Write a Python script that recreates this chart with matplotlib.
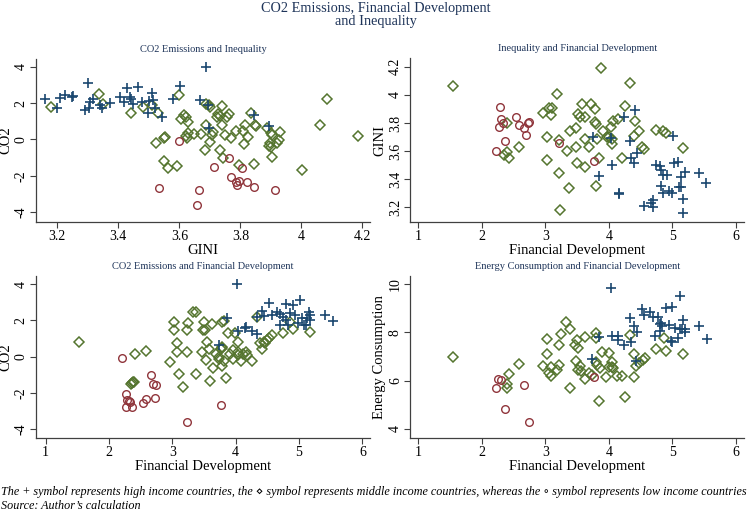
import matplotlib
matplotlib.use("Agg")
import matplotlib.pyplot as plt

W, H = 752, 511

# ---------------- Data ----------------
# Panel 1: CO2 vs GINI
p1_high_gini = [3.16, 3.198, 3.209, 3.225, 3.247, 3.252, 3.302, 3.29, 3.305, 3.306, 3.317, 3.34, 3.345, 3.372,
                3.405, 3.427, 3.42, 3.437, 3.44, 3.449, 3.466, 3.477, 3.499, 3.51, 3.515, 3.498, 3.52, 3.542,
                3.578, 3.602, 3.687, 3.668, 3.695, 3.698, 3.845, 3.895]
p1_high_co2 = [2.2, 1.71, 2.26, 2.44, 2.35, 2.39, 3.08, 1.62, 1.71, 2.08, 2.2, 1.89, 1.71, 1.99,
               2.32, 2.81, 2.08, 2.35, 2.2, 1.95, 2.86, 2.08, 2.13, 2.53, 2.17, 1.44, 1.71, 1.22,
               2.2, 2.96, 3.96, 2.17, 1.89, 0.61, 1.34, 0.74]
p1_mid_gini = [3.178, 3.337, 3.351, 3.44, 3.48, 3.509, 3.531, 3.523, 3.55, 3.553, 3.55, 3.562, 3.593, 3.599,
               3.607, 3.615, 3.622, 3.629, 3.622, 3.629, 3.626, 3.648, 3.671, 3.684, 3.687, 3.687, 3.698,
               3.702, 3.702, 3.707, 3.711, 3.739, 3.728, 3.723, 3.734, 3.756, 3.762, 3.739, 3.734, 3.742,
               3.75, 3.769, 3.786, 3.797, 3.808, 3.816, 3.812, 3.826, 3.834, 3.845, 3.848, 3.851, 3.897,
               3.899, 3.895, 3.886, 3.899, 3.905, 3.905, 3.92, 3.927, 3.931, 4.001, 4.061, 4.083, 4.187]
p1_mid_co2 = [1.8, 2.48, 1.95, 1.47, 1.8, 1.89, 1.44, -0.18, 0.1, 0.15, -1.16, -1.55, -1.46, 2.44,
              1.12, 1.34, 1.22, 0.98, 0.19, 0.34, 0.1, 0.28, 0.28, -0.58, 0.79, 1.93, 1.89,
              1.8, -0.12, 0.25, 0.43, 1.86, 1.4, 1.22, 1.29, 1.22, 1.4, 0.79, -0.58, -1.0,
              0.25, 0.06, 0.48, -1.4, 0.48, 0.79, -0.25, 0.15, 1.44, -1.35, 0.79, 0.74, -0.18,
              -0.43, -0.36, 0.65, 0.34, 0.25, -0.98, -0.18, -0.03, 0.43, -1.68, 0.79, 2.2, 0.19]
p1_low_gini = [3.6, 3.533, 3.665, 3.657, 3.712, 3.764, 3.769, 3.804, 3.786, 3.79, 3.797, 3.823, 3.845, 3.914]
p1_low_co2 = [-0.07, -2.65, -2.78, -3.6, -1.53, -1.04, -2.04, -1.59, -2.32, -2.5, -2.26, -2.32, -2.59, -2.78]

# Panel 2: GINI vs Financial Development
p2_high_fd = [3.744, 3.838, 4.03, 4.05, 4.153, 4.16, 4.24, 4.33, 4.345, 4.4, 4.436, 4.415, 4.557, 4.662, 4.688,
              4.7, 4.74, 4.8, 4.82, 4.82, 4.85, 4.85, 4.91, 4.94, 4.99, 5.01, 5.03, 5.08, 5.11, 5.13, 5.13,
              5.19, 5.17, 5.17, 5.42, 5.53]
p2_high_gini = [3.698, 3.423, 3.69, 3.5, 3.304, 3.295, 3.845, 3.672, 3.548, 3.513, 3.584, 3.892, 3.212, 3.228, 3.252,
                3.205, 3.501, 3.494, 3.465, 3.352, 3.43, 3.304, 3.43, 3.318, 3.304, 3.707, 3.513, 3.525, 3.347, 3.347, 3.413,
                3.454, 3.257, 3.162, 3.446, 3.375]
p2_mid_fd = [1.54, 2.39, 2.353, 2.39, 2.43, 2.58, 2.957, 3.02, 3.02, 3.062, 3.099, 3.088, 3.177, 3.22, 3.21, 3.235,
             3.335, 3.377, 3.387, 3.48, 3.48, 3.5, 3.52, 3.545, 3.57, 3.628, 3.628, 3.623, 3.69, 3.716, 3.785,
             3.785, 3.796, 3.806, 3.796, 3.838, 3.875, 3.9, 3.963, 4.0, 4.03, 4.05, 4.05, 4.06, 4.14, 4.21,
             4.26, 4.33, 4.4, 4.415, 4.467, 4.52, 4.557, 4.74, 4.856, 4.898, 5.17]
p2_mid_gini = [4.063, 3.797, 3.572, 3.596, 3.548, 3.631, 3.868, 3.702, 3.536, 3.904, 3.904, 3.856, 4.006, 3.679, 3.442, 3.181,
               3.603, 3.335, 3.745, 3.762, 3.627, 3.513, 3.864, 3.84, 3.935, 3.845, 3.686, 3.484, 3.627, 3.935, 3.897,
               3.809, 3.792, 3.683, 3.352, 3.548, 4.188, 3.745, 3.702, 3.698, 3.769, 3.683, 3.65, 3.816, 3.826, 3.548,
               3.92, 4.081, 3.707, 3.816, 3.745, 3.631, 3.612, 3.75, 3.745, 3.726, 3.619]
p2_low_fd = [2.285, 2.30, 2.275, 2.327, 2.222, 2.364, 2.537, 2.59, 2.668, 2.695, 2.72, 2.747, 3.22, 3.77]
p2_low_gini = [3.916, 3.826, 3.769, 3.797, 3.603, 3.669, 3.845, 3.785, 3.764, 3.714, 3.797, 3.809, 3.66, 3.532]

# Panel 3: CO2 vs Financial Development
p3_high_fd = [4.02, 3.74, 3.86, 4.04, 4.16, 4.15, 4.25, 4.34, 4.34, 4.41, 4.44, 4.53, 4.57, 4.65, 4.7, 4.7, 4.75,
              4.79, 4.8, 4.82, 4.85, 4.91, 4.93, 4.99, 5.01, 5.04, 5.08, 5.11, 5.12, 5.16, 5.17, 5.18, 5.41, 5.54]
p3_high_co2 = [3.98, 0.64, 2.15, 1.41, 1.65, 1.6, 1.41, 1.23, 2.2, 2.51, 2.26, 2.94, 2.29, 2.44, 1.74, 2.33, 2.2,
               2.88, 2.02, 1.74, 2.39, 2.84, 2.29, 1.83, 3.12, 2.15, 1.74, 1.74, 2.15, 2.44, 2.29, 2.02, 2.29, 1.96]
p3_mid_fd = [1.53, 2.34, 2.37, 2.38, 2.4, 2.41, 2.58, 2.96, 3.02, 3.02, 3.07, 3.07, 3.11, 3.17, 3.23, 3.24, 3.23,
             3.33, 3.37, 3.38, 3.46, 3.5, 3.48, 3.52, 3.53, 3.55, 3.58, 3.6, 3.62, 3.64, 3.69, 3.73, 3.74, 3.76,
             3.78, 3.79, 3.79, 3.78, 3.81, 3.82, 3.84, 3.88, 3.91, 3.95, 3.95, 3.99, 4.03, 4.04, 4.04, 4.08,
             4.11, 4.16, 4.18, 4.26, 4.33, 4.39, 4.41, 4.44, 4.46, 4.49, 4.53, 4.57, 4.74, 4.85, 4.9, 5.17]
p3_mid_co2 = [0.79, -1.52, -1.43, -1.38, -1.41, 0.15, 0.33, -0.28, 1.93, 1.47, 0.73, 0.28, -0.95, -1.69, 0.28, 1.83, 1.47,
              2.44, 2.44, -0.95, 0.24, 1.89, 1.47, 1.47, -0.18, 0.79, 0.42, -1.34, 1.8, -0.61, 0.13, 0.0, -0.13, 0.42,
              1.93, 0.55, 0.46, -0.5, 1.96, -0.24, -1.19, 1.28, 0.13, -0.13, 0.37, 1.28, 0.09, 0.79, 0.28, -0.24,
              0.13, 0.24, 0.09, -0.24, 2.2, 0.73, 0.42, 0.79, 0.73, 0.92, 1.05, 1.19, 1.28, 1.93, 1.52, 1.34]
p3_low_fd = [2.21, 2.26, 2.28, 2.27, 2.31, 2.33, 2.36, 2.53, 2.58, 2.66, 2.69, 2.74, 2.73, 3.23, 3.76]
p3_low_co2 = [-0.06, -2.07, -2.39, -2.79, -2.44, -2.51, -2.79, -2.57, -2.33, -1.01, -1.52, -1.56, -2.26, -3.61, -2.66]

# Panel 4: Energy Consumption vs Financial Development
p4_high_fd = [3.74, 3.84, 4.03, 4.05, 4.15, 4.15, 4.24, 4.33, 4.35, 4.4, 4.44, 4.42, 4.52, 4.56, 4.65, 4.69, 4.73,
              4.78, 4.8, 4.82, 4.84, 4.8, 4.9, 4.94, 4.98, 5.0, 5.0, 5.04, 5.08, 5.12, 5.12, 5.15, 5.17, 5.19,
              5.2, 5.41, 5.54]
p4_high_en = [6.9, 7.82, 9.85, 7.86, 7.86, 7.68, 7.48, 8.58, 7.59, 8.28, 8.0, 6.82, 8.96, 8.72, 8.83, 8.65, 7.86,
              8.65, 8.33, 8.37, 8.28, 8.06, 9.02, 8.3, 7.64, 7.59, 9.06, 8.17, 7.78, 8.14, 9.48, 8.14, 8.51, 8.14,
              8.0, 8.28, 7.72]
p4_mid_fd = [1.54, 2.39, 2.39, 2.43, 2.58, 2.96, 3.02, 3.02, 3.06, 3.09, 3.09, 3.18, 3.22, 3.24, 3.22, 3.33, 3.38,
             3.39, 3.47, 3.5, 3.52, 3.48, 3.52, 3.54, 3.56, 3.63, 3.63, 3.69, 3.74, 3.79, 3.79, 3.79, 3.82, 3.84,
             3.86, 3.89, 3.95, 4.0, 4.0, 4.05, 4.05, 4.07, 4.12, 4.21, 4.26, 4.33, 4.4, 4.4, 4.43, 4.48, 4.53,
             4.57, 4.74, 4.86, 4.9, 5.17]
p4_mid_en = [6.99, 5.85, 5.69, 6.28, 6.68, 6.61, 7.72, 7.1, 6.3, 6.21, 6.58, 6.44, 7.48, 7.92, 6.65, 8.44, 8.14,
             5.71, 7.48, 7.68, 7.34, 6.82, 6.44, 6.62, 6.4, 7.82, 6.07, 6.3, 6.24, 7.96, 7.75, 6.76, 6.65, 5.17,
             6.51, 7.17, 6.13, 7.13, 6.58, 6.58, 6.76, 6.51, 6.21, 6.21, 5.34, 7.89, 7.09, 6.13, 6.62, 6.72, 6.86,
             6.95, 7.31, 7.78, 7.23, 7.09]
p4_low_fd = [2.22, 2.26, 2.3, 2.36, 2.67, 2.75, 3.77]
p4_low_en = [5.71, 6.07, 6.03, 4.83, 5.8, 4.28, 6.17]

# ---------------- Style ----------------
SERIF = ["Liberation Serif", "DejaVu Serif"]
plt.rcParams["font.family"] = SERIF
NAVY = "#1a476f"
MAROON = "#90353b"
GREEN = "#55752f"
TITLE_C = "#1e3459"
AXC = "#404040"

fig = plt.figure(figsize=(W / 100, H / 100), dpi=100)


def px_box(l, r, t, b):
    return [l / W, 1 - b / H, (r - l) / W, (b - t) / H]


def style(ax, xlim, ylim, xticks, yticks, xlabels, ylabels, xlab, ylab, title):
    ax.set_xlim(*xlim)
    ax.set_ylim(*ylim)
    ax.set_xticks(xticks)
    ax.set_xticklabels(xlabels)
    ax.set_yticks(yticks)
    ax.set_yticklabels(ylabels, rotation=90, va="center")
    for s in ["top", "right"]:
        ax.spines[s].set_visible(False)
    for s in ["left", "bottom"]:
        ax.spines[s].set_color(AXC)
        ax.spines[s].set_linewidth(0.9)
    ax.tick_params(axis="both", direction="out", length=4, width=0.8, color=AXC,
                   labelsize=10, labelcolor="black", pad=2)
    ax.set_xlabel(xlab, fontsize=10.5, labelpad=1)
    ax.set_ylabel(ylab, fontsize=10.5, labelpad=2)
    ax.set_title(title, fontsize=7.5, color=TITLE_C, pad=5)


def plot_groups(ax, hx, hy, mx, my, lx, ly):
    ax.plot(mx, my, linestyle="none", marker="D", markersize=5.2, markerfacecolor="none",
            markeredgecolor=GREEN, markeredgewidth=1.1)
    ax.plot(hx, hy, linestyle="none", marker="+", markersize=6.5,
            markeredgecolor=NAVY, markeredgewidth=1.2)
    ax.plot(lx, ly, linestyle="none", marker="o", markersize=5.5, markerfacecolor="none",
            markeredgecolor=MAROON, markeredgewidth=1.0)


fd_ticks = [1, 2, 3, 4, 5, 6]
fd_labels = ["1", "2", "3", "4", "5", "6"]

ax1 = fig.add_axes(px_box(36, 370, 59, 221.7))
plot_groups(ax1, p1_high_gini, p1_high_co2, p1_mid_gini, p1_mid_co2, p1_low_gini, p1_low_co2)
style(ax1, (3.130, 4.225), (-4.52, 4.42), [3.2, 3.4, 3.6, 3.8, 4.0, 4.2], [-4, -2, 0, 2, 4],
      ["3.2", "3.4", "3.6", "3.8", "4", "4.2"], ["-4", "-2", "0", "2", "4"], "GINI", "CO2",
      "CO2 Emissions and Inequality")

ax2 = fig.add_axes(px_box(410.3, 744, 58.3, 221.7))
plot_groups(ax2, p2_high_fd, p2_high_gini, p2_mid_fd, p2_mid_gini, p2_low_fd, p2_low_gini)
style(ax2, (0.874, 6.126), (3.098, 4.26), fd_ticks, [3.2, 3.4, 3.6, 3.8, 4.0, 4.2],
      fd_labels, ["3.2", "3.4", "3.6", "3.8", "4", "4.2"], "Financial Development", "GINI",
      "Inequality and Financial Development")

ax3 = fig.add_axes(px_box(36, 370, 275.7, 437.7))
plot_groups(ax3, p3_high_fd, p3_high_co2, p3_mid_fd, p3_mid_co2, p3_low_fd, p3_low_co2)
style(ax3, (0.847, 6.12), (-4.46, 4.46), fd_ticks, [-4, -2, 0, 2, 4],
      fd_labels, ["-4", "-2", "0", "2", "4"], "Financial Development", "CO2",
      "CO2 Emissions and Financial Development")

ax4 = fig.add_axes(px_box(410.3, 744, 275.7, 437.7))
plot_groups(ax4, p4_high_fd, p4_high_en, p4_mid_fd, p4_mid_en, p4_low_fd, p4_low_en)
style(ax4, (0.874, 6.126), (3.64, 10.34), fd_ticks, [4, 6, 8, 10],
      fd_labels, ["4", "6", "8", "10"], "Financial Development", "Energy Consumption",
      "Energy Consumption and Financial Development")

fig.text(0.5, 1 - 2 / H, "CO2 Emissions, Financial Development\nand Inequality", ha="center", va="top",
         fontsize=10.3, color=TITLE_C, linespacing=0.95)

fig.text(1 / W, 1 - 492 / H,
         "The + symbol represents high income countries, the \u22c4 symbol represents middle income countries, "
         "whereas the \u2218 symbol represents low income countries",
         ha="left", va="center", fontsize=8.75, style="italic", family=SERIF)
fig.text(1 / W, 1 - 505.5 / H, "Source: Author\u2019s calculation", ha="left", va="center",
         fontsize=8.75, style="italic", family=SERIF)

fig.savefig("out.png", dpi=100)
